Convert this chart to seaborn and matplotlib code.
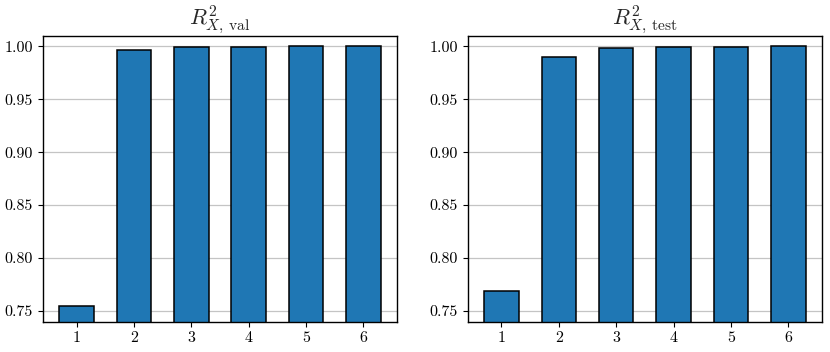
import matplotlib
matplotlib.use("Agg")
import matplotlib.pyplot as plt
import numpy as np
import pandas as pd
import seaborn as sns

n_components = [1, 2, 3, 4, 5, 6]
r2_val = [0.755, 0.996, 0.9988, 0.9995, 0.9998, 0.9999]
r2_test = [0.769, 0.9896, 0.9978, 0.9988, 0.9995, 0.9998]
titles = [r"$R^2_{X,\,\mathrm{val}}$", r"$R^2_{X,\,\mathrm{test}}$"]
yticks = [0.75, 0.80, 0.85, 0.90, 0.95, 1.00]

sns.set_style("ticks")
plt.rcParams.update({
    "font.family": "serif",
    "font.serif": ["cmr10", "DejaVu Serif"],
    "mathtext.fontset": "cm",
    "axes.formatter.use_mathtext": True,
    "axes.edgecolor": "black",
    "axes.linewidth": 1.0,
    "xtick.color": "black",
    "ytick.color": "black",
})

fig, axes = plt.subplots(1, 2, figsize=(8.3, 3.52), dpi=100)

for ax, vals, title in zip(axes, [r2_val, r2_test], titles):
    df = pd.DataFrame({"k": n_components, "r2": vals})
    sns.barplot(data=df, x="k", y="r2", ax=ax, color="#1f77b4", saturation=1,
                edgecolor="black", linewidth=1.1, width=0.6)
    ax.set_ylim(0.74, 1.01)
    ax.set_yticks(yticks)
    ax.set_yticklabels(["%.2f" % t for t in yticks])
    ax.set_xlim(-0.59, 5.58)
    ax.yaxis.grid(True, color="#c4c4c4", lw=0.9)
    ax.set_axisbelow(True)
    ax.set_xlabel("")
    ax.set_ylabel("")
    ax.set_title(title, fontsize=16)
    ax.tick_params(labelsize=11.5)

plt.subplots_adjust(left=0.0514, right=0.990, bottom=0.086, top=0.899, wspace=0.2)
plt.savefig("out.png")
